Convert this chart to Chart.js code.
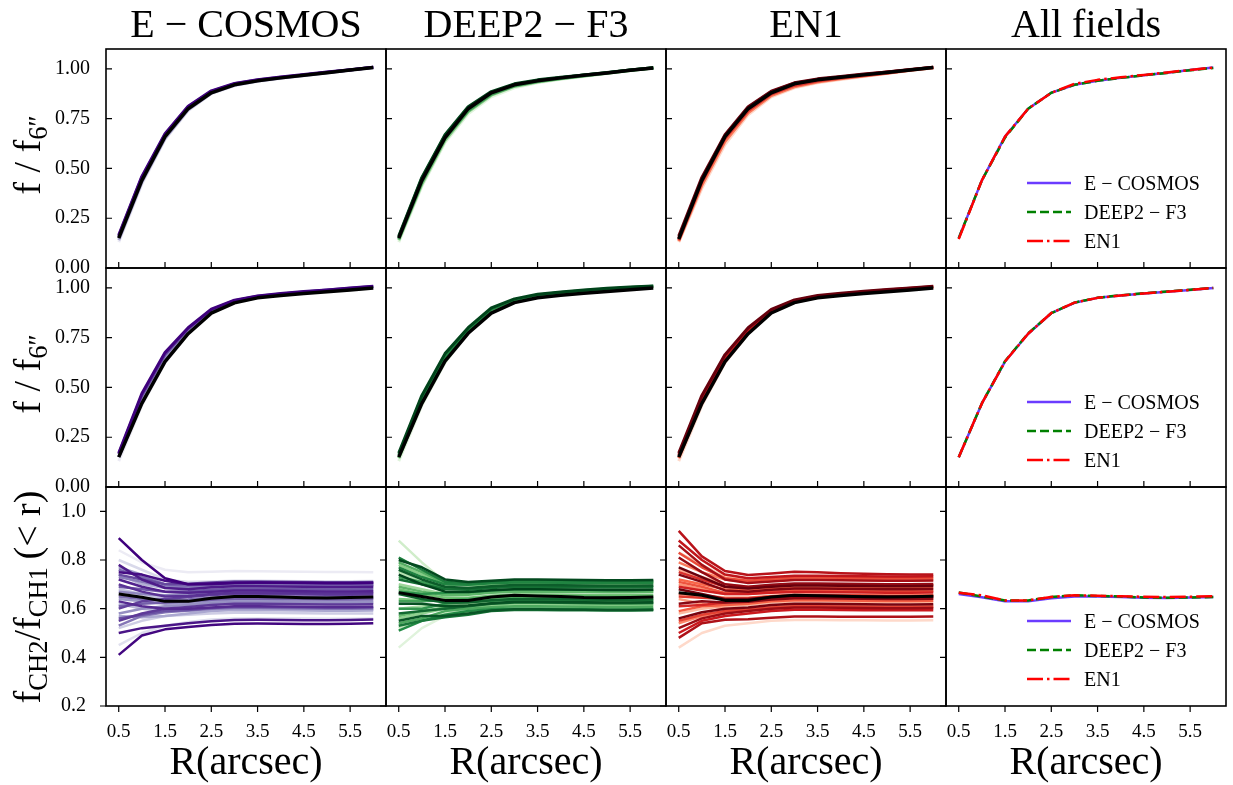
<!DOCTYPE html>
<html>
<head>
<meta charset="utf-8">
<script src="https://cdn.jsdelivr.net/npm/chart.js"></script>
<style>
  body { margin: 0; background: #fff; width: 1233px; height: 785px; position: relative; overflow: hidden;
         font-family: "Liberation Serif", "DejaVu Serif", serif; color: #000; }
  canvas { position: absolute; }
  .txt { position: absolute; white-space: nowrap; }
  .sub { font-size: 0.7em; position: relative; top: 0.28em; }
</style>
</head>
<body>
<script>
// radii (arcsec) where the curves are sampled
const radius = [0.5, 1.0, 1.5, 2.0, 2.5, 3.0, 3.5, 4.0, 4.5, 5.0, 5.5, 6.0];
const xTicks = [0.5, 1.5, 2.5, 3.5, 4.5, 5.5];
const fluxTicks = [0, 0.25, 0.5, 0.75, 1.0];
const ratioTicks = [0.2, 0.4, 0.6, 0.8, 1.0];
const fieldNames = ["E − COSMOS", "DEEP2 − F3", "EN1"];

// top row: f/f6'' medians and individual curves
const fluxTopMedCosmos = [0.15, 0.44, 0.66, 0.80, 0.88, 0.92, 0.94, 0.955, 0.968, 0.981, 0.994, 1.007];
const fluxTopMedDeep   = [0.15, 0.44, 0.655, 0.80, 0.88, 0.92, 0.94, 0.955, 0.968, 0.98, 0.993, 1.005];
const fluxTopMedEn1    = [0.145, 0.44, 0.66, 0.80, 0.88, 0.925, 0.945, 0.958, 0.97, 0.982, 0.995, 1.007];
const fluxTopCosmos = [
  [0.13, 0.42, 0.645, 0.79, 0.875, 0.915, 0.937, 0.952, 0.966, 0.98, 0.993, 1.006],
  [0.14, 0.43, 0.65, 0.795, 0.878, 0.918, 0.939, 0.954, 0.967, 0.981, 0.994, 1.007],
  [0.155, 0.45, 0.665, 0.805, 0.883, 0.922, 0.942, 0.956, 0.969, 0.982, 0.995, 1.008],
  [0.16, 0.455, 0.67, 0.81, 0.887, 0.925, 0.944, 0.958, 0.97, 0.983, 0.995, 1.008],
  [0.165, 0.46, 0.675, 0.812, 0.89, 0.927, 0.946, 0.96, 0.972, 0.984, 0.996, 1.009]
];
const fluxTopDeep = [
  [0.13, 0.41, 0.63, 0.775, 0.86, 0.905, 0.93, 0.948, 0.962, 0.977, 0.991, 1.004],
  [0.14, 0.42, 0.64, 0.785, 0.868, 0.912, 0.934, 0.95, 0.964, 0.978, 0.992, 1.005],
  [0.145, 0.43, 0.65, 0.79, 0.872, 0.915, 0.937, 0.952, 0.966, 0.979, 0.993, 1.005],
  [0.155, 0.45, 0.665, 0.805, 0.882, 0.922, 0.942, 0.956, 0.969, 0.981, 0.994, 1.006],
  [0.16, 0.455, 0.67, 0.81, 0.886, 0.925, 0.945, 0.958, 0.97, 0.982, 0.995, 1.006]
];
const fluxTopEn1 = [
  [0.13, 0.40, 0.62, 0.77, 0.86, 0.905, 0.93, 0.947, 0.962, 0.977, 0.992, 1.005],
  [0.135, 0.415, 0.635, 0.78, 0.866, 0.91, 0.934, 0.95, 0.964, 0.978, 0.993, 1.006],
  [0.14, 0.43, 0.65, 0.79, 0.874, 0.917, 0.939, 0.954, 0.967, 0.98, 0.994, 1.007],
  [0.15, 0.445, 0.665, 0.805, 0.885, 0.928, 0.947, 0.96, 0.972, 0.984, 0.996, 1.008],
  [0.16, 0.455, 0.67, 0.81, 0.888, 0.93, 0.95, 0.962, 0.974, 0.985, 0.997, 1.009]
];

// middle row
const fluxMidMedCosmos = [0.15, 0.42, 0.63, 0.77, 0.873, 0.925, 0.95, 0.962, 0.972, 0.981, 0.99, 1.0];
const fluxMidMedDeep   = [0.15, 0.42, 0.632, 0.772, 0.873, 0.926, 0.951, 0.963, 0.973, 0.982, 0.991, 1.0];
const fluxMidMedEn1    = [0.15, 0.42, 0.63, 0.77, 0.874, 0.926, 0.95, 0.962, 0.972, 0.981, 0.99, 1.0];
const fluxMidCosmos = [
  [0.13, 0.41, 0.625, 0.77, 0.875, 0.928, 0.953, 0.966, 0.976, 0.986, 0.995, 1.004],
  [0.15, 0.44, 0.65, 0.785, 0.883, 0.932, 0.955, 0.968, 0.978, 0.987, 0.996, 1.005],
  [0.165, 0.46, 0.665, 0.795, 0.89, 0.936, 0.958, 0.97, 0.98, 0.989, 0.998, 1.007],
  [0.17, 0.47, 0.675, 0.80, 0.893, 0.938, 0.96, 0.972, 0.982, 0.99, 0.999, 1.008]
];
const fluxMidDeep = [
  [0.13, 0.41, 0.625, 0.775, 0.88, 0.93, 0.955, 0.968, 0.978, 0.988, 0.997, 1.005],
  [0.145, 0.43, 0.64, 0.785, 0.888, 0.936, 0.96, 0.972, 0.982, 0.991, 0.999, 1.006],
  [0.16, 0.45, 0.655, 0.79, 0.893, 0.94, 0.965, 0.977, 0.987, 0.995, 1.002, 1.008],
  [0.17, 0.46, 0.67, 0.80, 0.90, 0.945, 0.968, 0.98, 0.99, 0.998, 1.004, 1.01]
];
const fluxMidEn1 = [
  [0.13, 0.41, 0.625, 0.77, 0.876, 0.928, 0.952, 0.965, 0.975, 0.985, 0.994, 1.003],
  [0.145, 0.43, 0.64, 0.78, 0.882, 0.932, 0.956, 0.968, 0.978, 0.987, 0.996, 1.005],
  [0.16, 0.45, 0.655, 0.79, 0.888, 0.936, 0.958, 0.97, 0.98, 0.989, 0.998, 1.006],
  [0.17, 0.46, 0.665, 0.80, 0.892, 0.94, 0.962, 0.973, 0.983, 0.992, 1.0, 1.008]
];

// bottom row: fCH2/fCH1(<r), lighter curves first
const ratioMedCosmos = [0.66, 0.647, 0.63, 0.63, 0.643, 0.65, 0.65, 0.648, 0.645, 0.644, 0.646, 0.648];
const ratioMedDeep   = [0.666, 0.65, 0.634, 0.634, 0.648, 0.655, 0.652, 0.65, 0.646, 0.645, 0.646, 0.648];
const ratioMedEn1    = [0.665, 0.655, 0.634, 0.634, 0.648, 0.655, 0.653, 0.651, 0.649, 0.648, 0.649, 0.651];
const ratioCosmos = [
  [0.84, 0.79, 0.76, 0.75, 0.752, 0.755, 0.754, 0.753, 0.752, 0.751, 0.751, 0.75],
  [0.45, 0.50, 0.53, 0.545, 0.555, 0.56, 0.56, 0.56, 0.56, 0.559, 0.559, 0.56],
  [0.80, 0.76, 0.72, 0.71, 0.712, 0.715, 0.715, 0.714, 0.713, 0.713, 0.713, 0.714],
  [0.52, 0.55, 0.57, 0.575, 0.58, 0.583, 0.583, 0.582, 0.581, 0.58, 0.58, 0.58],
  [0.68, 0.66, 0.64, 0.635, 0.64, 0.643, 0.643, 0.642, 0.641, 0.64, 0.64, 0.641],
  [0.62, 0.60, 0.59, 0.59, 0.595, 0.598, 0.598, 0.597, 0.596, 0.595, 0.595, 0.596],
  [0.74, 0.70, 0.685, 0.682, 0.686, 0.688, 0.687, 0.685, 0.684, 0.683, 0.683, 0.684],
  [0.57, 0.565, 0.57, 0.58, 0.59, 0.595, 0.594, 0.593, 0.592, 0.591, 0.591, 0.592],
  [0.77, 0.74, 0.70, 0.69, 0.694, 0.697, 0.696, 0.695, 0.694, 0.693, 0.693, 0.694],
  [0.64, 0.63, 0.62, 0.622, 0.628, 0.632, 0.631, 0.63, 0.629, 0.628, 0.628, 0.629],
  [0.58, 0.60, 0.61, 0.615, 0.622, 0.627, 0.627, 0.626, 0.625, 0.624, 0.624, 0.625],
  [0.67, 0.66, 0.655, 0.66, 0.668, 0.672, 0.672, 0.671, 0.67, 0.669, 0.669, 0.67],
  [0.73, 0.71, 0.69, 0.688, 0.693, 0.698, 0.698, 0.697, 0.696, 0.695, 0.695, 0.696],
  [0.53, 0.57, 0.585, 0.592, 0.60, 0.603, 0.603, 0.602, 0.601, 0.60, 0.60, 0.601],
  [0.65, 0.64, 0.635, 0.638, 0.645, 0.65, 0.65, 0.649, 0.648, 0.647, 0.647, 0.648],
  [0.76, 0.73, 0.70, 0.695, 0.70, 0.70, 0.70, 0.699, 0.698, 0.697, 0.697, 0.698],
  [0.61, 0.62, 0.625, 0.63, 0.637, 0.641, 0.641, 0.64, 0.639, 0.638, 0.638, 0.639],
  [0.69, 0.68, 0.67, 0.672, 0.678, 0.682, 0.682, 0.681, 0.68, 0.679, 0.679, 0.68],
  [0.56, 0.575, 0.59, 0.595, 0.603, 0.607, 0.607, 0.606, 0.605, 0.604, 0.604, 0.605],
  [0.74, 0.72, 0.70, 0.702, 0.708, 0.712, 0.712, 0.711, 0.71, 0.709, 0.709, 0.71],
  [0.60, 0.63, 0.64, 0.648, 0.656, 0.66, 0.66, 0.659, 0.658, 0.657, 0.657, 0.658],
  [0.55, 0.58, 0.60, 0.607, 0.615, 0.62, 0.62, 0.619, 0.618, 0.617, 0.617, 0.618],
  [0.70, 0.67, 0.65, 0.652, 0.66, 0.665, 0.665, 0.664, 0.663, 0.662, 0.662, 0.663],
  [0.63, 0.61, 0.60, 0.60, 0.605, 0.61, 0.61, 0.609, 0.608, 0.607, 0.607, 0.608],
  [0.72, 0.69, 0.67, 0.665, 0.67, 0.675, 0.675, 0.674, 0.672, 0.671, 0.671, 0.672],
  [0.78, 0.72, 0.685, 0.68, 0.688, 0.692, 0.692, 0.691, 0.69, 0.689, 0.689, 0.69],
  [0.50, 0.52, 0.53, 0.54, 0.548, 0.553, 0.554, 0.553, 0.552, 0.552, 0.553, 0.555],
  [0.75, 0.74, 0.715, 0.70, 0.70, 0.705, 0.707, 0.706, 0.705, 0.704, 0.704, 0.705],
  [0.41, 0.49, 0.515, 0.525, 0.533, 0.538, 0.539, 0.538, 0.537, 0.537, 0.538, 0.54],
  [0.89, 0.80, 0.725, 0.70, 0.703, 0.707, 0.708, 0.707, 0.706, 0.705, 0.705, 0.706]
];
const ratioDeep = [
  [0.44, 0.52, 0.57, 0.585, 0.595, 0.60, 0.60, 0.599, 0.598, 0.597, 0.597, 0.598],
  [0.88, 0.79, 0.71, 0.70, 0.705, 0.71, 0.71, 0.709, 0.708, 0.707, 0.707, 0.708],
  [0.52, 0.56, 0.58, 0.59, 0.60, 0.605, 0.604, 0.603, 0.602, 0.601, 0.601, 0.602],
  [0.75, 0.71, 0.67, 0.665, 0.672, 0.677, 0.676, 0.675, 0.674, 0.673, 0.673, 0.674],
  [0.60, 0.61, 0.615, 0.62, 0.628, 0.633, 0.633, 0.632, 0.631, 0.63, 0.63, 0.631],
  [0.70, 0.68, 0.66, 0.66, 0.668, 0.672, 0.672, 0.671, 0.67, 0.669, 0.669, 0.67],
  [0.56, 0.58, 0.60, 0.605, 0.613, 0.618, 0.618, 0.617, 0.616, 0.615, 0.615, 0.616],
  [0.78, 0.74, 0.70, 0.695, 0.70, 0.705, 0.705, 0.704, 0.703, 0.702, 0.702, 0.703],
  [0.64, 0.635, 0.63, 0.632, 0.64, 0.645, 0.645, 0.644, 0.643, 0.642, 0.642, 0.643],
  [0.68, 0.66, 0.645, 0.645, 0.653, 0.658, 0.658, 0.657, 0.656, 0.655, 0.655, 0.656],
  [0.57, 0.59, 0.605, 0.612, 0.62, 0.624, 0.624, 0.623, 0.622, 0.621, 0.621, 0.622],
  [0.69, 0.67, 0.655, 0.657, 0.665, 0.67, 0.67, 0.669, 0.668, 0.667, 0.667, 0.668],
  [0.79, 0.75, 0.705, 0.70, 0.708, 0.713, 0.713, 0.712, 0.711, 0.71, 0.71, 0.711],
  [0.54, 0.56, 0.59, 0.60, 0.606, 0.61, 0.61, 0.609, 0.608, 0.607, 0.607, 0.608],
  [0.63, 0.63, 0.635, 0.64, 0.647, 0.651, 0.651, 0.65, 0.649, 0.648, 0.648, 0.649],
  [0.73, 0.71, 0.685, 0.683, 0.69, 0.695, 0.695, 0.694, 0.693, 0.692, 0.692, 0.693],
  [0.60, 0.60, 0.62, 0.628, 0.633, 0.637, 0.637, 0.636, 0.635, 0.634, 0.634, 0.635],
  [0.67, 0.66, 0.665, 0.667, 0.675, 0.68, 0.68, 0.679, 0.678, 0.677, 0.677, 0.678],
  [0.51, 0.55, 0.575, 0.59, 0.598, 0.60, 0.60, 0.599, 0.598, 0.597, 0.597, 0.598],
  [0.77, 0.73, 0.70, 0.698, 0.704, 0.708, 0.708, 0.707, 0.706, 0.705, 0.705, 0.706],
  [0.81, 0.76, 0.71, 0.705, 0.712, 0.717, 0.717, 0.716, 0.715, 0.714, 0.714, 0.715],
  [0.53, 0.55, 0.565, 0.575, 0.59, 0.595, 0.595, 0.594, 0.593, 0.592, 0.592, 0.593],
  [0.72, 0.70, 0.68, 0.678, 0.685, 0.69, 0.69, 0.689, 0.688, 0.687, 0.687, 0.688],
  [0.58, 0.59, 0.60, 0.61, 0.62, 0.625, 0.625, 0.624, 0.623, 0.622, 0.622, 0.623],
  [0.66, 0.64, 0.625, 0.625, 0.635, 0.64, 0.64, 0.639, 0.638, 0.637, 0.637, 0.638],
  [0.76, 0.72, 0.69, 0.685, 0.692, 0.697, 0.697, 0.696, 0.695, 0.694, 0.694, 0.695],
  [0.55, 0.57, 0.57, 0.58, 0.592, 0.598, 0.598, 0.597, 0.596, 0.595, 0.595, 0.596],
  [0.62, 0.62, 0.61, 0.613, 0.622, 0.628, 0.628, 0.627, 0.626, 0.625, 0.625, 0.626],
  [0.80, 0.77, 0.72, 0.71, 0.715, 0.72, 0.72, 0.719, 0.718, 0.717, 0.717, 0.718],
  [0.74, 0.70, 0.67, 0.668, 0.676, 0.68, 0.68, 0.679, 0.678, 0.677, 0.677, 0.678]
];
const ratioEn1 = [
  [0.44, 0.50, 0.53, 0.54, 0.55, 0.553, 0.553, 0.552, 0.552, 0.551, 0.551, 0.552],
  [0.83, 0.78, 0.73, 0.72, 0.725, 0.73, 0.73, 0.729, 0.728, 0.727, 0.727, 0.728],
  [0.58, 0.60, 0.61, 0.615, 0.625, 0.63, 0.63, 0.629, 0.628, 0.627, 0.627, 0.628],
  [0.76, 0.73, 0.70, 0.69, 0.695, 0.70, 0.70, 0.699, 0.698, 0.697, 0.697, 0.698],
  [0.64, 0.62, 0.60, 0.60, 0.61, 0.615, 0.615, 0.614, 0.613, 0.612, 0.612, 0.613],
  [0.70, 0.68, 0.66, 0.66, 0.668, 0.673, 0.673, 0.672, 0.671, 0.67, 0.67, 0.671],
  [0.54, 0.57, 0.585, 0.592, 0.60, 0.605, 0.605, 0.604, 0.603, 0.602, 0.602, 0.603],
  [0.79, 0.75, 0.72, 0.71, 0.715, 0.72, 0.72, 0.719, 0.718, 0.717, 0.717, 0.718],
  [0.66, 0.655, 0.645, 0.645, 0.652, 0.657, 0.657, 0.656, 0.655, 0.654, 0.654, 0.655],
  [0.72, 0.70, 0.68, 0.675, 0.682, 0.687, 0.687, 0.686, 0.685, 0.684, 0.684, 0.685],
  [0.59, 0.61, 0.615, 0.62, 0.63, 0.635, 0.635, 0.634, 0.633, 0.632, 0.632, 0.633],
  [0.71, 0.69, 0.665, 0.662, 0.67, 0.676, 0.676, 0.675, 0.674, 0.673, 0.673, 0.674],
  [0.83, 0.77, 0.725, 0.715, 0.722, 0.728, 0.728, 0.727, 0.726, 0.725, 0.725, 0.726],
  [0.55, 0.575, 0.59, 0.597, 0.605, 0.61, 0.61, 0.609, 0.608, 0.607, 0.607, 0.608],
  [0.65, 0.645, 0.64, 0.643, 0.65, 0.655, 0.655, 0.654, 0.653, 0.652, 0.652, 0.653],
  [0.75, 0.72, 0.69, 0.685, 0.692, 0.698, 0.698, 0.697, 0.696, 0.695, 0.695, 0.696],
  [0.61, 0.615, 0.625, 0.63, 0.64, 0.645, 0.645, 0.644, 0.643, 0.642, 0.642, 0.643],
  [0.69, 0.675, 0.66, 0.66, 0.665, 0.668, 0.668, 0.667, 0.666, 0.665, 0.665, 0.666],
  [0.50, 0.55, 0.57, 0.58, 0.59, 0.596, 0.596, 0.595, 0.594, 0.593, 0.593, 0.594],
  [0.88, 0.80, 0.74, 0.725, 0.73, 0.735, 0.735, 0.734, 0.733, 0.732, 0.732, 0.733],
  [0.92, 0.815, 0.755, 0.738, 0.745, 0.752, 0.75, 0.746, 0.743, 0.741, 0.74, 0.74],
  [0.48, 0.54, 0.554, 0.557, 0.563, 0.568, 0.568, 0.567, 0.567, 0.567, 0.567, 0.568],
  [0.86, 0.78, 0.72, 0.705, 0.712, 0.718, 0.718, 0.717, 0.716, 0.715, 0.715, 0.716],
  [0.52, 0.56, 0.58, 0.59, 0.60, 0.605, 0.605, 0.604, 0.603, 0.602, 0.602, 0.603],
  [0.81, 0.75, 0.70, 0.69, 0.698, 0.703, 0.703, 0.702, 0.701, 0.70, 0.70, 0.701],
  [0.62, 0.63, 0.625, 0.628, 0.638, 0.643, 0.643, 0.642, 0.641, 0.64, 0.64, 0.641],
  [0.74, 0.71, 0.675, 0.67, 0.678, 0.683, 0.683, 0.682, 0.681, 0.68, 0.68, 0.681],
  [0.56, 0.585, 0.60, 0.605, 0.615, 0.62, 0.62, 0.619, 0.618, 0.617, 0.617, 0.618],
  [0.68, 0.66, 0.64, 0.64, 0.648, 0.653, 0.653, 0.652, 0.651, 0.65, 0.65, 0.651],
  [0.77, 0.73, 0.69, 0.683, 0.69, 0.695, 0.695, 0.694, 0.693, 0.692, 0.692, 0.693]
];

// ---- layout / style ----
const FONT = '"Liberation Serif", "DejaVu Serif", serif';
const COL_X = [106, 386, 666, 946];
const ROW_Y = [49, 268, 487];
const PW = 280, PH = 219;
const PL = 60, PT = 32, PR = 20, PB = 50;

const CMAPS = {
  Purples: [[252,251,253],[218,218,235],[158,154,200],[106,81,163],[63,0,125]],
  Greens:  [[247,252,245],[199,233,192],[116,196,118],[35,139,69],[0,68,27]],
  Reds:    [[255,245,240],[252,187,161],[251,106,74],[203,24,29],[103,0,13]]
};
function cmap(name, t) {
  const s = CMAPS[name];
  const p = t * (s.length - 1);
  const i = Math.min(Math.floor(p), s.length - 2);
  const f = p - i;
  const c = s[i].map((v, k) => Math.round(v + (s[i + 1][k] - v) * f));
  return "rgb(" + c.join(",") + ")";
}

const FIELD_STYLE = [
  { color: "#6b3cff", dash: [] },
  { color: "#008000", dash: [9, 4] },
  { color: "#ff0000", dash: [16, 4, 2.5, 4] }
];

const framePlugin = {
  id: "frame",
  afterDraw(chart, args, opts) {
    const { ctx, chartArea: a, scales: { x, y } } = chart;
    ctx.save();
    ctx.strokeStyle = "#000";
    ctx.lineWidth = 1.2;
    const len = opts.out ? -6 : 6;
    ctx.beginPath();
    x.ticks.forEach(t => {
      const px = x.getPixelForValue(t.value);
      ctx.moveTo(px, a.bottom);
      ctx.lineTo(px, a.bottom - len);
    });
    y.ticks.forEach(t => {
      const py = y.getPixelForValue(t.value);
      ctx.moveTo(a.left, py);
      ctx.lineTo(a.left + len, py);
    });
    ctx.stroke();
    ctx.lineWidth = 1.6;
    ctx.strokeRect(a.left, a.top, a.right - a.left, a.bottom - a.top);
    ctx.restore();
  }
};

function line(vals, color, width, dash) {
  return {
    data: radius.map((r, i) => ({ x: r, y: vals[i] })),
    borderColor: color,
    borderWidth: width,
    borderDash: dash || [],
    borderJoinStyle: "round",
    pointRadius: 0,
    fill: false,
    tension: 0
  };
}

// darkest members on top, black median on top of everything
function fieldDatasets(median, members, cmapName, flux) {
  const n = members.length;
  const ds = members.map((m, i) => line(m, cmap(cmapName, 0.12 + 0.88 * Math.pow(i / (n - 1), 0.7)), flux ? 3 : 2.5));
  return [line(median, "#000", flux ? 3.5 : 3)].concat(ds.reverse());
}

function makePanel(row, col, datasets) {
  const isRatio = row === 2;
  const yTicks = isRatio ? ratioTicks : fluxTicks;
  const cv = document.createElement("canvas");
  cv.width = PW + PL + PR;
  cv.height = PH + PT + PB;
  cv.style.left = (COL_X[col] - PL) + "px";
  cv.style.top = (ROW_Y[row] - PT) + "px";
  document.body.appendChild(cv);
  new Chart(cv, {
    type: "line",
    data: { datasets },
    options: {
      responsive: false,
      animation: false,
      events: [],
      layout: { padding: { left: col === 0 ? 0 : PL, top: PT, right: PR, bottom: isRatio ? 0 : PB } },
      plugins: { legend: { display: false }, tooltip: { enabled: false }, frame: { out: isRatio } },
      scales: {
        x: {
          type: "linear", min: 0.225, max: 6.275,
          grid: { display: false }, border: { display: false },
          afterBuildTicks: a => { a.ticks = xTicks.map(v => ({ value: v })); },
          afterFit: a => { a.height = isRatio ? PB : 0; },
          ticks: { display: isRatio, padding: 7, color: "#000", maxRotation: 0, autoSkip: false,
                   font: { family: FONT, size: 19 }, callback: v => v.toFixed(1) }
        },
        y: {
          type: "linear", min: isRatio ? 0.2 : 0, max: 1.1,
          grid: { display: false }, border: { display: false },
          afterBuildTicks: a => { a.ticks = yTicks.map(v => ({ value: v })); },
          afterFit: a => { a.width = col === 0 ? PL : 0; },
          ticks: { display: col === 0, padding: isRatio ? 12 : 8, color: "#000", autoSkip: false,
                   font: { family: FONT, size: 20 }, callback: v => v.toFixed(isRatio ? 1 : 2) }
        }
      }
    },
    plugins: [framePlugin]
  });
}

const rows = [
  { meds: [fluxTopMedCosmos, fluxTopMedDeep, fluxTopMedEn1], lines: [fluxTopCosmos, fluxTopDeep, fluxTopEn1] },
  { meds: [fluxMidMedCosmos, fluxMidMedDeep, fluxMidMedEn1], lines: [fluxMidCosmos, fluxMidDeep, fluxMidEn1] },
  { meds: [ratioMedCosmos, ratioMedDeep, ratioMedEn1], lines: [ratioCosmos, ratioDeep, ratioEn1] }
];
const cmapNames = ["Purples", "Greens", "Reds"];

rows.forEach((r, ri) => {
  for (let c = 0; c < 3; c++) makePanel(ri, c, fieldDatasets(r.meds[c], r.lines[c], cmapNames[c], ri < 2));
  const all = [2, 1, 0].map(k => line(r.meds[k], FIELD_STYLE[k].color, 2.5, FIELD_STYLE[k].dash));
  makePanel(ri, 3, all);
});

// ---- text ----
function addText(html, css) {
  const d = document.createElement("div");
  d.className = "txt";
  d.innerHTML = html;
  d.style.cssText += css;
  document.body.appendChild(d);
  return d;
}
const titles = fieldNames.concat(["All fields"]);
titles.forEach((t, c) => {
  addText(t, `left:${COL_X[c]}px;width:${PW}px;text-align:center;top:4px;font-size:40px;line-height:40px;`);
  addText("R(arcsec)", `left:${COL_X[c]}px;width:${PW}px;text-align:center;top:741px;font-size:40px;line-height:40px;`);
});
const yLabels = [
  "f / f<span class='sub'>6\u2033</span>",
  "f / f<span class='sub'>6\u2033</span>",
  "f<span class='sub'>CH2</span>/f<span class='sub'>CH1</span>\u2009(&lt; r)"
];
yLabels.forEach((t, r) => {
  const cy = ROW_Y[r] + PH / 2 - (r < 2 ? 4 : 0);
  addText(t, `left:29px;top:${cy}px;font-size:38px;line-height:38px;transform:translate(-50%,-50%) rotate(-90deg);`);
});

// legends in the "All fields" column
function legendSvg(k) {
  const s = FIELD_STYLE[k];
  return `<svg width="44" height="10" style="position:absolute;left:0;top:8px"><line x1="0" y1="5" x2="44" y2="5" stroke="${s.color}" stroke-width="2.5" stroke-dasharray="${s.dash.join(",")}"/></svg>`;
}
for (let r = 0; r < 3; r++) {
  fieldNames.forEach((name, k) => {
    addText(legendSvg(k) + `<span style="position:absolute;left:57px;top:0">${name}</span>`,
      `left:1027px;top:${ROW_Y[r] + 121 + k * 29}px;width:200px;height:26px;font-size:20px;line-height:26px;`);
  });
}
</script>
</body>
</html>
